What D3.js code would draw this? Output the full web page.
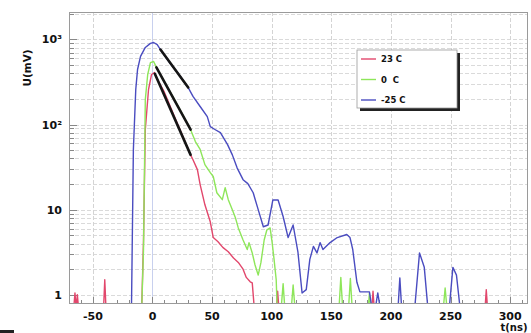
<!DOCTYPE html>
<html>
<head>
<meta charset="utf-8">
<script src="https://cdn.jsdelivr.net/npm/d3@7/dist/d3.min.js"></script>
<style>
  html, body { margin: 0; padding: 0; background: #fff; }
  svg { display: block; }
  text { font-family: "DejaVu Sans", Arial, sans-serif; font-weight: bold; fill: #111; }
</style>
</head>
<body>
<svg id="chart" width="531" height="333"></svg>
<script>
// Signal amplitude U (mV) versus time t (ns) at three temperatures.
// Each series is a list of [t (ns), U (mV)]; 0 marks samples with no signal.
const red23 = [
  [-70, 0], [-66, 0], [-65, 1.05], [-64, 0], [-63, 1.0], [-62, 0],
  [-41, 0], [-40, 1.5], [-39, 0],
  [-9, 0], [-7.5, 4.4], [-6, 87], [-3.3, 258], [-0.8, 387], [1.7, 408], [3.3, 355],
  [10, 240], [20, 110], [32, 44], [34, 38.6], [37.7, 29.5], [40, 19.7], [44, 11.4],
  [48.5, 7.2], [51, 4.7], [55, 4.2], [59, 3.6], [63.6, 3.2], [68, 2.7], [72, 2.4],
  [76, 2.0], [78.7, 1.6], [82, 1.42], [83.7, 1.38], [85.4, 0],
  [104, 0], [105, 1.1], [106, 0],
  [184, 0], [185, 1.1], [186, 0],
  [279, 0], [280, 1.15], [281, 0], [315, 0]
];
const green0 = [
  [-70, 0], [-9, 0], [-7.5, 3.4], [-6, 196], [-4, 385], [-1.7, 535], [1, 550], [3.3, 470],
  [10, 320], [20, 180], [32, 87], [36, 63], [40, 51], [44, 33.8], [48.5, 27.2], [51, 24.5],
  [54, 15.8], [58.6, 13.1], [61, 18.1], [63.6, 13.1], [67, 10], [69.5, 8.1], [72, 6.1],
  [76, 4.4], [79.5, 3.4], [81, 4.1], [83.7, 3.1], [86, 2.25], [88.7, 1.7], [91, 2.4],
  [93.7, 4.4], [96, 5.8], [98.7, 6.1], [100.4, 4.1], [102, 2.6], [103.8, 1.5], [104.6, 0],
  [108, 0], [109.6, 1.35], [111, 0],
  [116.5, 0], [118, 1.3], [119.5, 0],
  [156.5, 0], [158, 1.6], [159.5, 0],
  [164.5, 0], [166, 1.55], [167.5, 0],
  [181, 0], [182, 1.05], [183, 0],
  [244, 0], [245.5, 1.2], [247, 0], [315, 0]
];
const blueM25 = [
  [-70, 0], [-17.6, 0], [-16, 51], [-14, 258], [-12.5, 443], [-10, 631], [-6, 805],
  [-1.7, 898], [1, 920], [4, 870], [6.7, 760], [15, 520], [22, 390], [30, 272],
  [34, 214], [40, 163], [46, 124], [48.5, 94.6], [52, 88], [57, 80.5], [63, 58],
  [67, 44], [71, 31], [76, 22.5], [80, 20.2], [84.5, 15.8], [88.7, 10], [93, 6.3],
  [97, 6.6], [101, 13], [105.4, 13], [109.6, 8.3], [113.8, 4.7], [118, 6.6], [122, 3.2],
  [125.5, 1.05], [129, 1.15], [132, 2.6], [135, 3.7], [138, 3.1], [140.6, 4.1],
  [143, 3.4], [149, 4.1], [155, 4.7], [163, 5.1], [165.7, 4.7], [168, 3.4],
  [171.5, 1.4], [174, 1.08], [182, 1.08], [184, 0],
  [187, 0], [189, 1.05], [191, 0],
  [206, 0], [207.5, 1.58], [209, 0],
  [220, 0], [224, 3.1], [228, 2.1], [231, 0],
  [249, 0], [252, 2.1], [255, 1.7], [258, 0], [315, 0]
];
// Exponential fits over the falling edge: [t, U] at both ends of each fit.
const fitRed = [[2, 395], [32, 44]];
const fitGreen = [[3.3, 470], [32, 87]];
const fitBlue = [[6.7, 760], [30, 272]];

const xTicks = [-50, 0, 50, 100, 150, 200, 250, 300];
const yTicks = [1, 10, 100, 1000];
const yTickLabels = ["1", "10", "10²", "10³"];
const legendLabels = ["23 C", "0  C", "-25 C"];
const seriesColors = ["#e2476c", "#8ee65a", "#4a4cc0"];

const svg = d3.select("#chart");
const pLeft = 69, pRight = 528, pTop = 12, pBottom = 303;

const x = d3.scaleLinear().domain([-70, 315]).range([pLeft, pRight]);
const y = d3.scaleLog().domain([0.8, 2100]).range([pBottom, pTop]);
const floor = 0.7; // below the axis: hidden by the clip

svg.append("defs").append("clipPath").attr("id", "plotClip")
  .append("rect").attr("x", pLeft).attr("y", pTop).attr("width", pRight - pLeft).attr("height", pBottom - pTop);

// grid: minor log lines and 50 ns verticals
const gridVals = [];
for (let d = 1; d <= 1000; d *= 10) for (let m = 1; m <= 9; m++) {
  const v = d * m; if (v <= 2100) gridVals.push(v);
}
gridVals.push(2000);
const grid = svg.append("g");
grid.selectAll("line.h").data(gridVals).join("line")
  .attr("x1", pLeft).attr("x2", pRight)
  .attr("y1", d => Math.round(y(d)) + 0.5).attr("y2", d => Math.round(y(d)) + 0.5)
  .attr("stroke", "#dadada").attr("stroke-width", 1).attr("stroke-dasharray", "4,2");
grid.selectAll("line.v").data(xTicks).join("line")
  .attr("y1", pTop).attr("y2", pBottom)
  .attr("x1", d => Math.round(x(d)) + 0.5).attr("x2", d => Math.round(x(d)) + 0.5)
  .attr("stroke", d => d === 0 ? "#c8d0ee" : "#d4d4d4").attr("stroke-width", 1)
  .attr("stroke-dasharray", d => d === 0 ? null : "4,2");

// left axis minor ticks
svg.append("g").selectAll("line").data(gridVals).join("line")
  .attr("x1", pLeft).attr("x2", d => yTicks.includes(d) ? pLeft + 8 : pLeft + 5)
  .attr("y1", d => Math.round(y(d)) + 0.5).attr("y2", d => Math.round(y(d)) + 0.5)
  .attr("stroke", "#888").attr("stroke-width", 1);

// bottom axis ticks every 10 ns
const xMinor = d3.range(-70, 316, 10);
svg.append("g").selectAll("line").data(xMinor).join("line")
  .attr("x1", d => Math.round(x(d)) + 0.5).attr("x2", d => Math.round(x(d)) + 0.5)
  .attr("y1", pBottom).attr("y2", d => d % 50 === 0 ? pBottom - 6 : pBottom - 3)
  .attr("stroke", "#888").attr("stroke-width", 1);

// frame
svg.append("rect").attr("x", pLeft + 0.5).attr("y", pTop + 0.5)
  .attr("width", pRight - pLeft - 1).attr("height", pBottom - pTop)
  .attr("fill", "none").attr("stroke", "#9a9a9a").attr("stroke-width", 1);

// curves
const line = d3.line().x(d => x(d[0])).y(d => y(Math.max(d[1], floor)));
const plot = svg.append("g").attr("clip-path", "url(#plotClip)");
[red23, green0, blueM25].forEach((s, i) => {
  plot.append("path").datum(s).attr("d", line)
    .attr("fill", "none").attr("stroke", seriesColors[i]).attr("stroke-width", 1.4)
    .attr("stroke-linejoin", "round");
});
[fitRed, fitGreen, fitBlue].forEach(f => {
  plot.append("path").datum(f).attr("d", line)
    .attr("fill", "none").attr("stroke", "#151515").attr("stroke-width", 2.6)
    .attr("stroke-linecap", "round");
});

// tick labels
svg.append("g").selectAll("text").data(xTicks).join("text")
  .attr("x", d => x(d)).attr("y", 320).attr("text-anchor", "middle")
  .attr("font-size", 11).text(d => d);
svg.append("g").selectAll("text").data(yTicks).join("text")
  .attr("x", 62).attr("y", d => y(d) + 4).attr("text-anchor", "end")
  .attr("font-size", 11).text((d, i) => yTickLabels[i]);

// axis titles
svg.append("text").attr("x", 514).attr("y", 331).attr("text-anchor", "middle")
  .attr("font-size", 10).text("t(ns)");
svg.append("text").attr("transform", "translate(31,68) rotate(-90)")
  .attr("text-anchor", "middle").attr("font-size", 10.5).text("U(mV)");

// legend
const lg = svg.append("g").attr("transform", "translate(357,50)");
lg.append("rect").attr("x", 3).attr("y", 3).attr("width", 100).attr("height", 58).attr("fill", "#222");
lg.append("rect").attr("x", 0).attr("y", 0).attr("width", 100).attr("height", 58)
  .attr("fill", "#fff").attr("stroke", "#999").attr("stroke-width", 0.8);
legendLabels.forEach((lab, i) => {
  const yy = 9 + i * 20.5;
  lg.append("line").attr("x1", 4).attr("x2", 19).attr("y1", yy).attr("y2", yy)
    .attr("stroke", seriesColors[i]).attr("stroke-width", 1.4);
  lg.append("text").attr("x", 24).attr("y", yy + 3).attr("font-size", 8.5)
    .attr("xml:space", "preserve").style("white-space", "pre").text(lab);
});

// small mark at the lower-left corner
svg.append("rect").attr("x", 0).attr("y", 330).attr("width", 14).attr("height", 3).attr("fill", "#222");
</script>
</body>
</html>
